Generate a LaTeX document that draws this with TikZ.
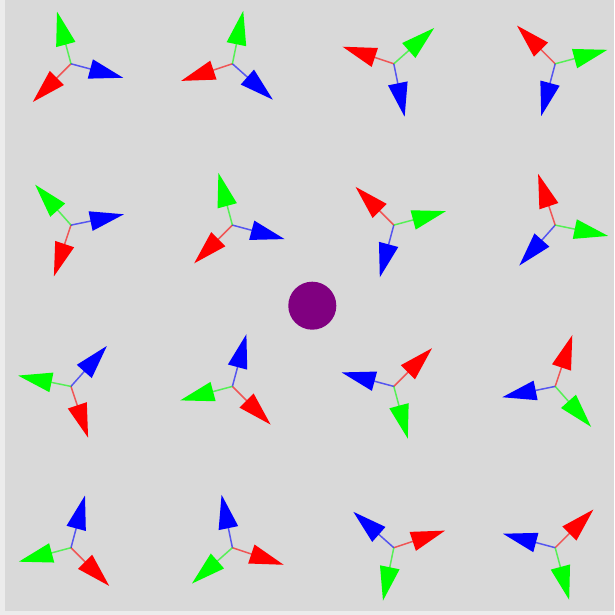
\documentclass[tikz,border=0pt]{standalone}
\definecolor{bgc}{HTML}{D9D9D9}
\definecolor{edgec}{HTML}{ECECEC}
\definecolor{redc}{HTML}{FF0000}
\definecolor{greenc}{HTML}{00FF00}
\definecolor{bluec}{HTML}{0000FF}
\definecolor{purplec}{HTML}{800080}
\tikzset{
  stemline/.style={line width=0.015cm, draw opacity=0.6},
  headfill/.style={draw=none}
}
\newcommand\myarrow[2]{%
  \begin{scope}[rotate=#1]
    \draw[stemline, draw=#2] (0,0) -- (22,0);
    \fill[headfill, fill=#2] (54,0) -- (20,10) -- (20,-10) -- cycle;
  \end{scope}}
\newcommand\mytriad[3]{%
  \begin{scope}[shift={(#1,#2)}]
    \myarrow{#3}{redc}
    \myarrow{#3+120}{bluec}
    \myarrow{#3+240}{greenc}
  \end{scope}}
\begin{document}
\begin{tikzpicture}[x=0.01cm,y=-0.01cm]
  \fill[edgec] (0,0) rectangle (614,615);
  \fill[bgc] (5,0) rectangle (614,611);
  \useasboundingbox (0,0) rectangle (614,615);
  \fill[purplec] (312.3,305.7) circle [radius=0.24cm];
  \foreach \i in {0,...,3} {
    \foreach \j in {0,...,3} {
      \pgfmathsetmacro\th{atan2(1.5-\j,\i-1.5)+90}
      \mytriad{71+161.4*\i}{63.8+161.3*\j}{\th}
    }
  }
\end{tikzpicture}
\end{document}
